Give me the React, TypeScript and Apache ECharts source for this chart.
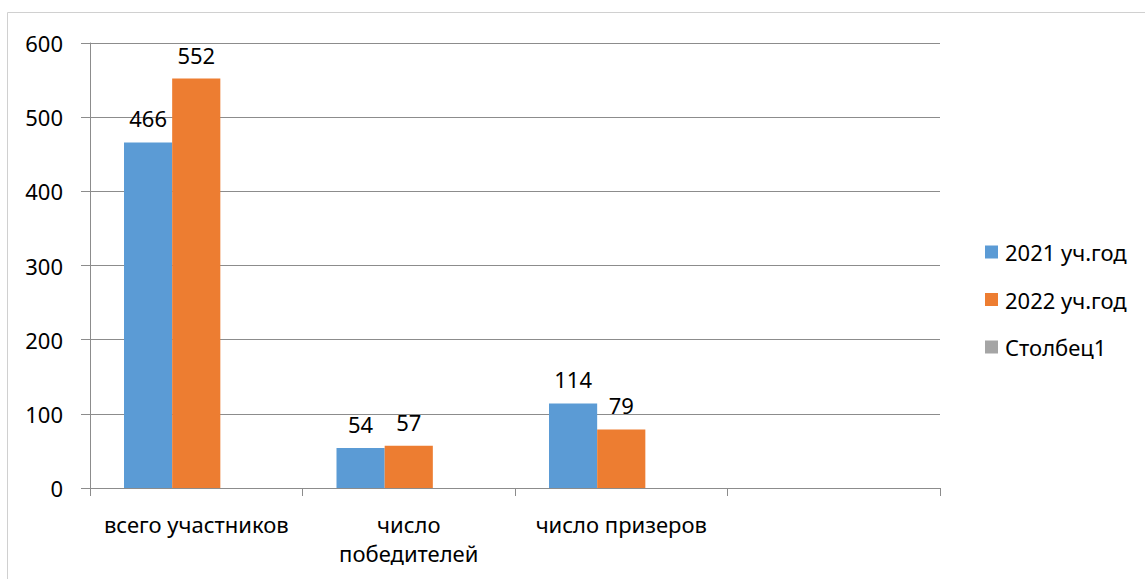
import React, { useEffect, useRef } from "react";
import * as echarts from "echarts";

const categories = ["всего участников", "число\nпобедителей", "число призеров", ""];
const series2021 = [466, 54, 114, null];
const series2022 = [552, 57, 79, null];
const seriesCol1: (number | null)[] = [null, null, null, null];
const yTicks = { min: 0, max: 600, interval: 100 };

const FONT = "'Noto Sans', 'Open Sans', sans-serif";
const FS = 22;

export default function App() {
  const ref = useRef<HTMLDivElement>(null);
  useEffect(() => {
    if (!ref.current) return;
    const chart = echarts.init(ref.current, undefined, { renderer: "svg" });
    const label = {
      show: true,
      position: "top" as const,
      distance: 13,
      color: "#000",
      fontSize: FS,
      fontFamily: FONT,
    };
    chart.setOption({
      animation: false,
      backgroundColor: "#fff",
      textStyle: { fontFamily: FONT },
      graphic: [
        {
          type: "rect",
          shape: { x: 7.5, y: 12.5, width: 1300, height: 700 },
          style: { fill: "none", stroke: "#d0d0d0", lineWidth: 1 },
          silent: true,
        },
      ],
      grid: { left: 90, right: 205, top: 43, bottom: 91 },
      legend: {
        orient: "vertical",
        left: 980,
        top: 236,
        itemWidth: 13,
        itemHeight: 13,
        itemGap: 25.5,
        icon: "rect",
        textStyle: { fontSize: FS, color: "#000", fontFamily: FONT, padding: [0, 0, 0, 2] },
        data: ["2021 уч.год", "2022 уч.год", "Столбец1"],
      },
      xAxis: {
        type: "category",
        data: categories,
        boundaryGap: true,
        axisLine: { show: true, lineStyle: { color: "#8c8c8c", width: 1 } },
        axisTick: { show: true, length: 8, alignWithLabel: false, lineStyle: { color: "#8c8c8c" } },
        axisLabel: {
          color: "#000",
          fontSize: FS,
          fontFamily: FONT,
          margin: 21,
          lineHeight: 29,
          interval: 0,
        },
      },
      yAxis: {
        type: "value",
        min: yTicks.min,
        max: yTicks.max,
        interval: yTicks.interval,
        axisLine: { show: true, lineStyle: { color: "#8c8c8c", width: 1 } },
        axisTick: { show: true, length: 9, lineStyle: { color: "#8c8c8c" } },
        splitLine: { show: true, lineStyle: { color: "#8c8c8c", width: 1 } },
        axisLabel: { color: "#000", fontSize: FS, fontFamily: FONT, margin: 27 },
      },
      series: [
        {
          name: "2021 уч.год",
          type: "bar",
          data: series2021,
          barGap: "0%",
          barCategoryGap: "32%",
          itemStyle: { color: "#5B9BD5" },
          label,
        },
        {
          name: "2022 уч.год",
          type: "bar",
          data: series2022,
          barGap: "0%",
          barCategoryGap: "32%",
          itemStyle: { color: "#ED7D31" },
          label,
        },
        {
          name: "Столбец1",
          type: "bar",
          data: seriesCol1,
          barGap: "0%",
          barCategoryGap: "32%",
          itemStyle: { color: "#A5A5A5" },
          label,
        },
      ],
    });
    return () => chart.dispose();
  }, []);
  return (
    <div
      ref={ref}
      style={{ position: "fixed", left: 0, top: 0, width: 1145, height: 579 }}
    />
  );
}
